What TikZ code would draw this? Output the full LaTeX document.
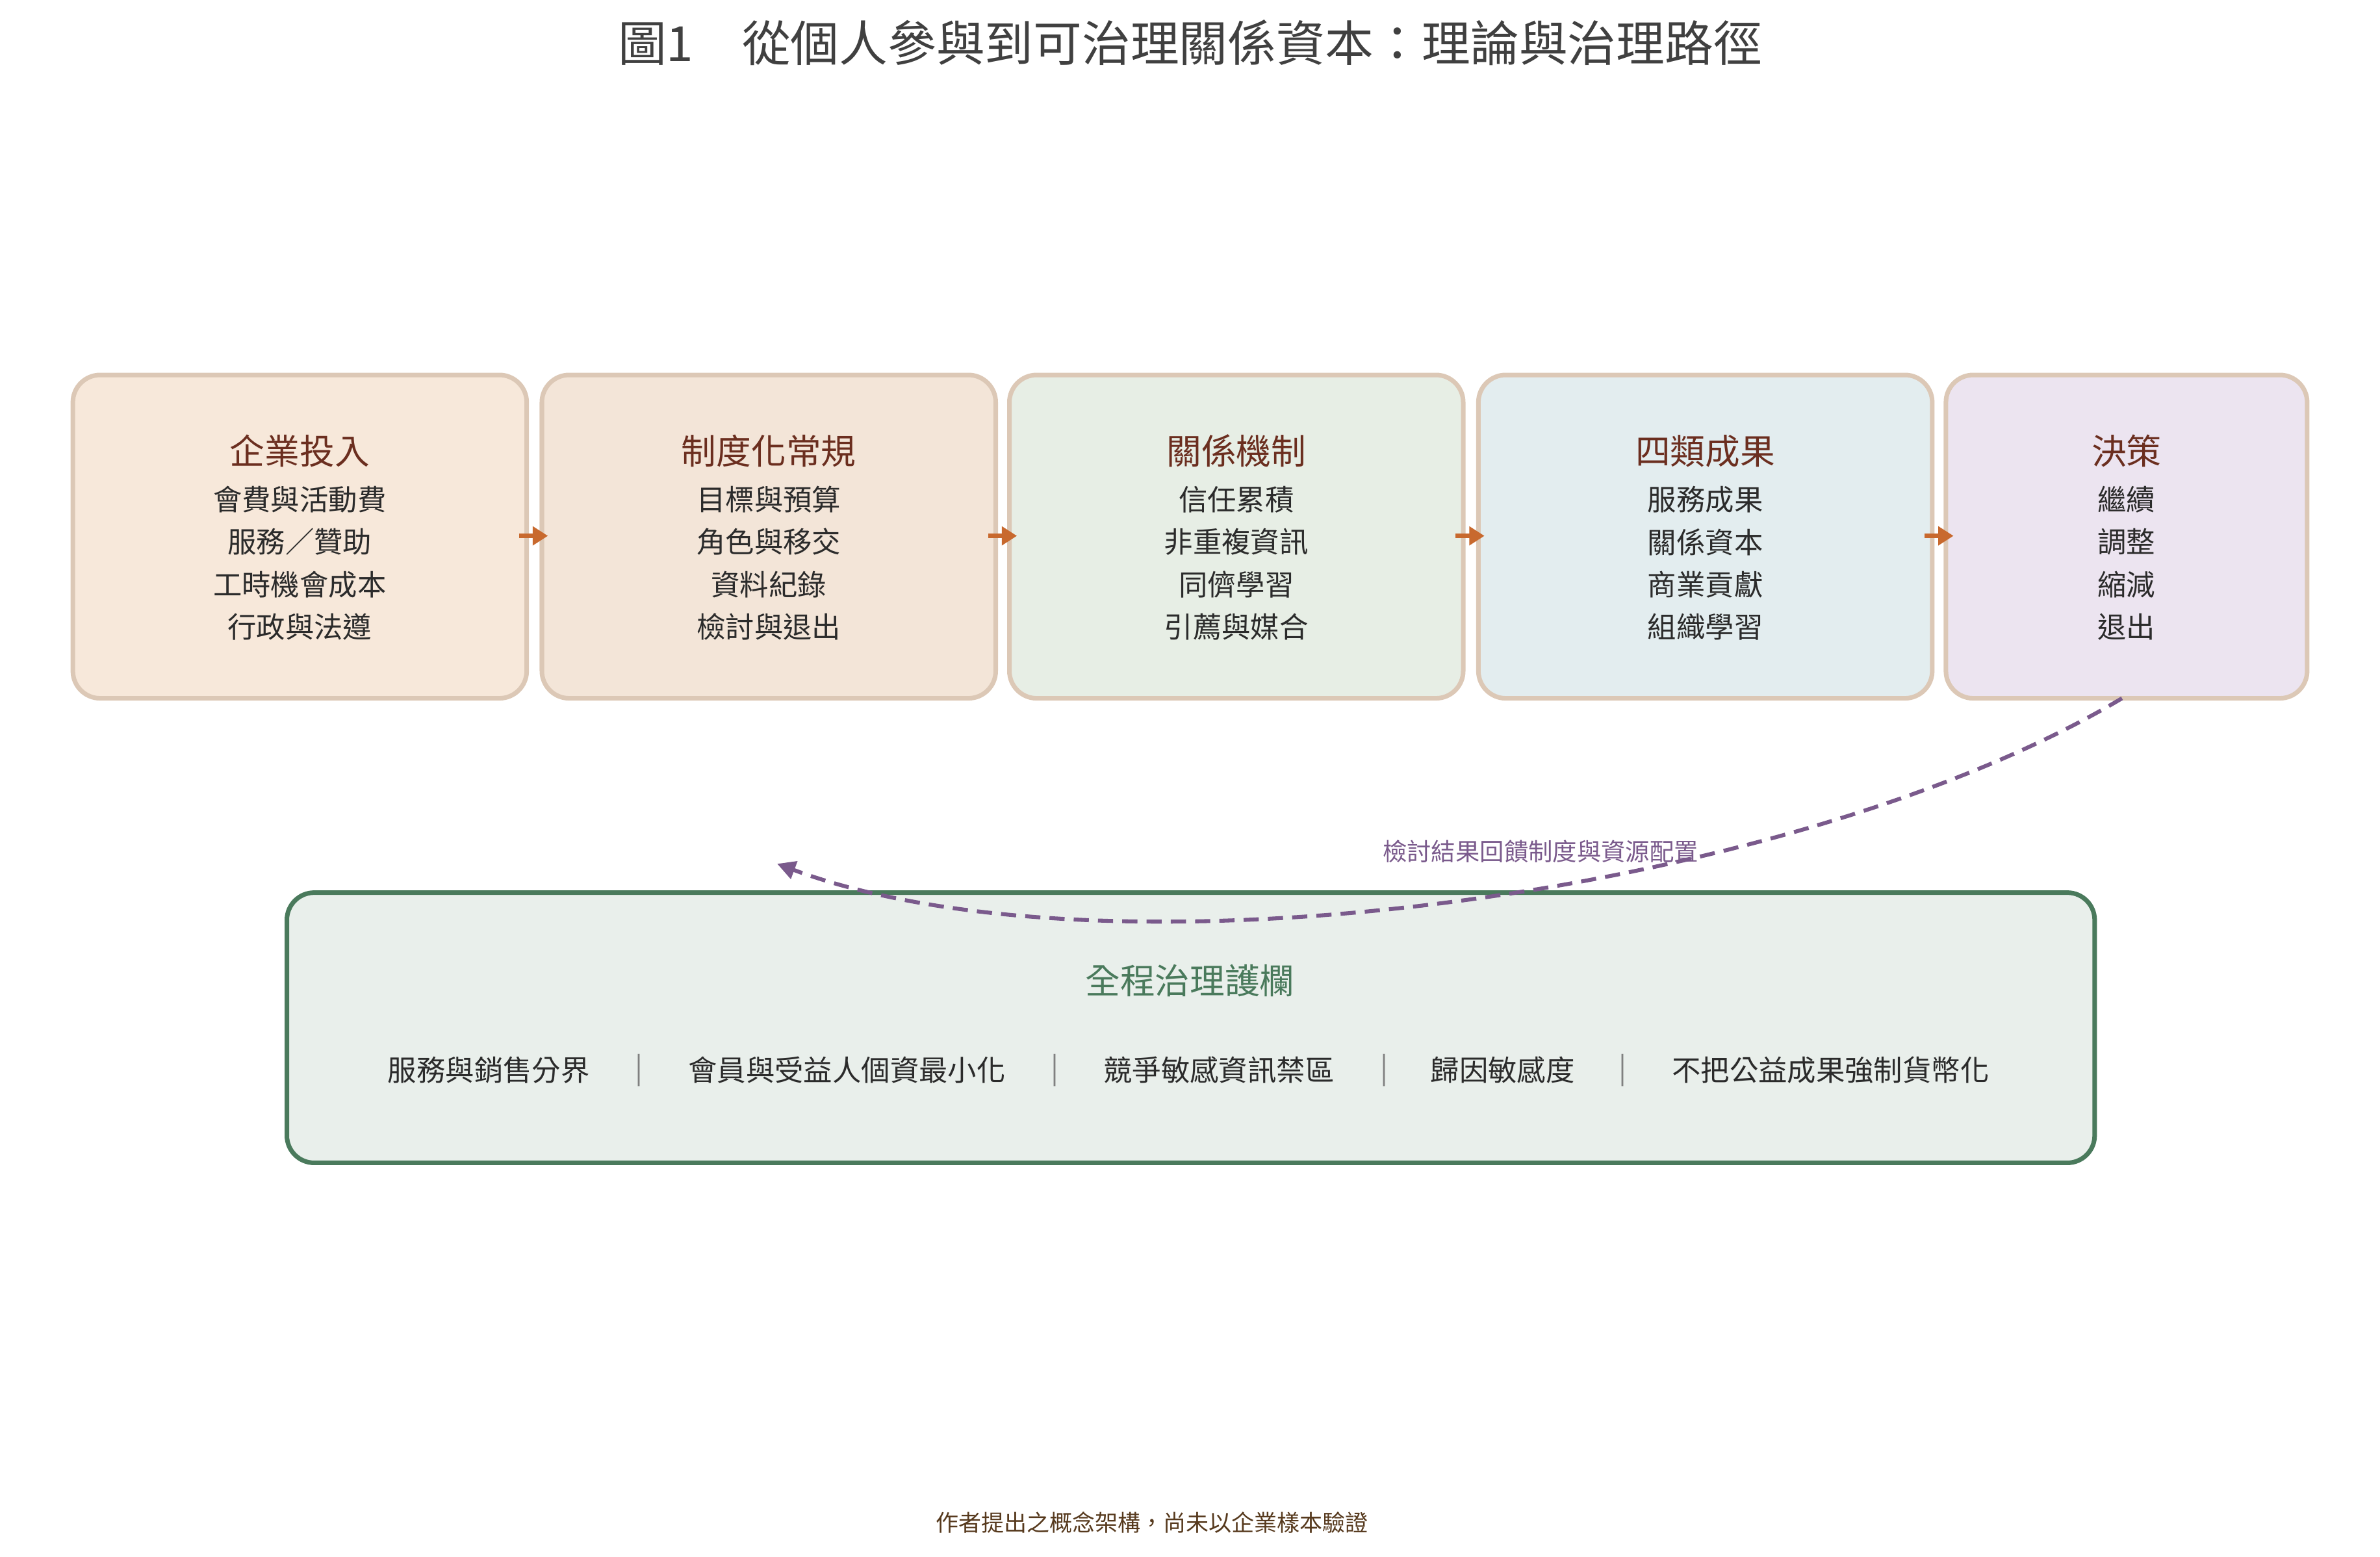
\documentclass[tikz,border=0pt]{standalone}
\usepackage{fontspec}
\setmainfont{Noto Sans CJK TC}
\usetikzlibrary{arrows.meta}
\definecolor{bord}{HTML}{DCC8B6}
\definecolor{ttl}{HTML}{6B2E1F}
\definecolor{txt}{HTML}{2B2B2B}
\definecolor{org}{HTML}{C8692E}
\definecolor{grn}{HTML}{4A7A5C}
\definecolor{pur}{HTML}{7A5A8C}
\begin{document}
\begin{tikzpicture}[x=0.5pt,y=-0.5pt,
 box/.style={draw=bord,line width=1.5pt,rounded corners=9pt},
 ht/.style={font=\fontsize{11.5}{13}\selectfont,text=ttl},
 it/.style={font=\fontsize{9.5}{11}\selectfont,text=txt},
 fl/.style={-{Triangle[length=5pt,width=6pt]},org,line width=1.5pt},
 gi/.style={font=\fontsize{9.5}{11}\selectfont,text=txt}]
\useasboundingbox (0,0) rectangle (1568,1025.6);
\node[font=\fontsize{16}{18}\selectfont,text=txt!90] (title) at (784,28) {圖1\quad 從個人參與到可治理關係資本：理論與治理路徑};
\def\mkbox#1#2#3#4#5#6#7#8#9{%
 \path[box,fill=#4] (#2,247) rectangle (#3,460);
 \node[ht] (#1t) at ({(#2+#3)/2},297) {#5};
 \node[it] (#1a) at ({(#2+#3)/2},329) {#6};
 \node[it] (#1b) at ({(#2+#3)/2},357) {#7};
 \node[it] (#1c) at ({(#2+#3)/2},385) {#8};
 \node[it] (#1d) at ({(#2+#3)/2},413) {#9};}
\definecolor{f1}{HTML}{F7E8DA}\definecolor{f2}{HTML}{F3E5D8}\definecolor{f3}{HTML}{E7EEE5}\definecolor{f4}{HTML}{E3EDEF}\definecolor{f5}{HTML}{ECE4F0}
\mkbox{b1}{48}{347}{f1}{企業投入}{會費與活動費}{服務／贊助}{工時機會成本}{行政與法遵}
\mkbox{b2}{357}{656}{f2}{制度化常規}{目標與預算}{角色與移交}{資料紀錄}{檢討與退出}
\mkbox{b3}{665}{964}{f3}{關係機制}{信任累積}{非重複資訊}{同儕學習}{引薦與媒合}
\mkbox{b4}{974}{1273}{f4}{四類成果}{服務成果}{關係資本}{商業貢獻}{組織學習}
\mkbox{b5}{1282}{1520}{f5}{決策}{繼續}{調整}{縮減}{退出}
\coordinate (a1s) at (342,353); \coordinate (a1e) at (361,353);
\coordinate (a2s) at (651,353); \coordinate (a2e) at (670,353);
\coordinate (a3s) at (959,353); \coordinate (a3e) at (978,353);
\coordinate (a4s) at (1268,353); \coordinate (a4e) at (1287,353);
\draw[fl] (a1s)--(a1e); \draw[fl] (a2s)--(a2e); \draw[fl] (a3s)--(a3e); \draw[fl] (a4s)--(a4e);
\draw[draw=grn,fill=grn!12!white,line width=1.5pt,rounded corners=9pt] (189,588) rectangle (1380,766);
\node[font=\fontsize{11.5}{13}\selectfont,text=grn] (gt) at (784,646) {全程治理護欄};
\node[gi] (g1) at (322,705) {服務與銷售分界};
\node[gi] (g2) at (558,705) {會員與受益人個資最小化};
\node[gi] (g3) at (803,705) {競爭敏感資訊禁區};
\node[gi] (g4) at (990,705) {歸因敏感度};
\node[gi] (g5) at (1206,705) {不把公益成果強制貨幣化};
\foreach \x/\n in {421/s1,695/s2,912/s3,1069/s4} \node[gi,text=txt!60] (\n) at (\x,705) {|};
\coordinate (fs) at (1398,460); \coordinate (fe) at (512,569);
\draw[pur,line width=1.3pt,dash pattern=on 5pt off 3pt,-{Triangle[length=6pt,width=6pt]}] (fs) .. controls (1180,590) and (730,650) .. (fe);
\node[font=\fontsize{8}{9}\selectfont,text=pur] (fl) at (1015,561) {檢討結果回饋制度與資源配置};
\node[font=\fontsize{7.5}{9}\selectfont,text=black!55!brown] (foot) at (759,1003) {作者提出之概念架構，尚未以企業樣本驗證};
\end{tikzpicture}
\end{document}
